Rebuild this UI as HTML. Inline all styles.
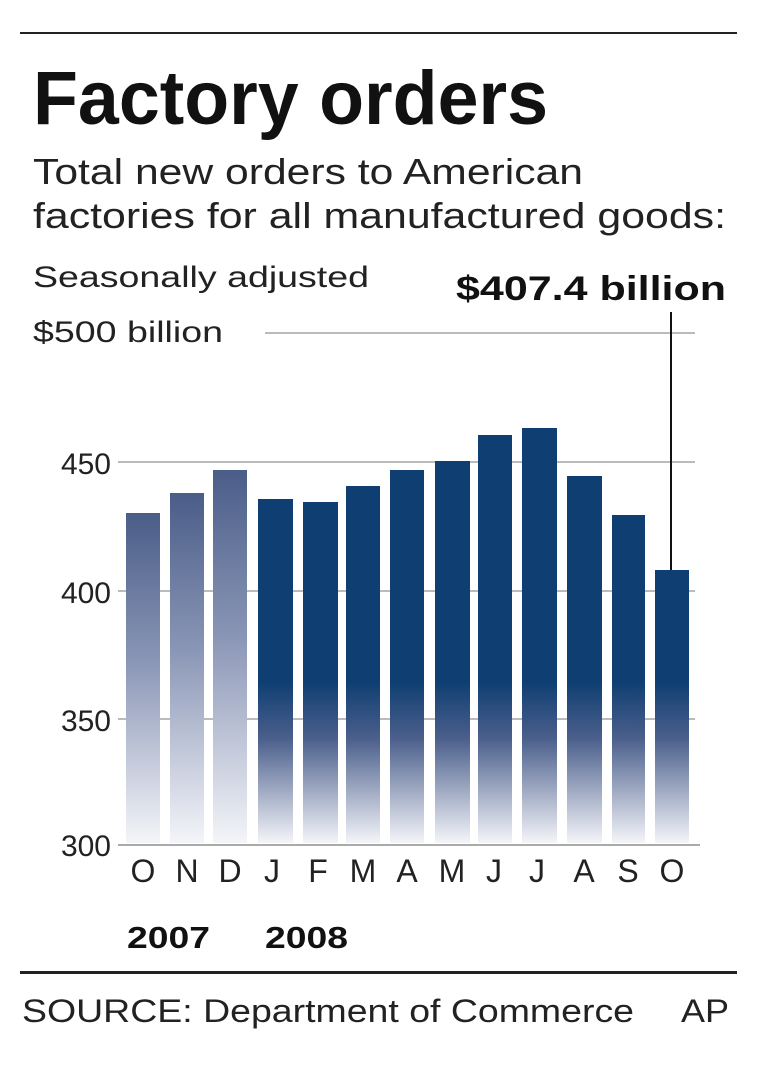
<!DOCTYPE html>
<html><head><meta charset="utf-8"><style>body{margin:0;background:#fff}svg{display:block}</style></head><body>
<svg width="760" height="1069" viewBox="0 0 760 1069" xmlns="http://www.w3.org/2000/svg" font-family="Liberation Sans, sans-serif">
<defs>
<linearGradient id="g7" x1="0" y1="0" x2="0" y2="1" gradientUnits="objectBoundingBox">
<stop offset="0" stop-color="#4a5d88"/><stop offset="0.45" stop-color="#8a96b6"/><stop offset="1" stop-color="#f4f5f9"/></linearGradient>
<linearGradient id="g8" x1="0" y1="470" x2="0" y2="843" gradientUnits="userSpaceOnUse">
<stop offset="0" stop-color="#0f3f72"/><stop offset="0.57" stop-color="#0f3f72"/><stop offset="0.72" stop-color="#4b5f8c"/><stop offset="1" stop-color="#f4f5f9"/></linearGradient>
</defs>
<rect x="20" y="32" width="717" height="2" fill="#222"/>
<text x="33" y="124" font-size="76" font-weight="bold" fill="#111" textLength="515" lengthAdjust="spacingAndGlyphs">Factory orders</text>
<text x="33" y="184" font-size="36" fill="#222" textLength="550" lengthAdjust="spacingAndGlyphs">Total new orders to American</text>
<text x="33" y="228" font-size="36" fill="#222" textLength="693" lengthAdjust="spacingAndGlyphs">factories for all manufactured goods:</text>
<text x="33" y="287" font-size="30" fill="#222" textLength="336" lengthAdjust="spacingAndGlyphs">Seasonally adjusted</text>
<text x="456" y="300" font-size="34" font-weight="bold" fill="#111" textLength="270" lengthAdjust="spacingAndGlyphs">$407.4 billion</text>
<text x="33" y="342" font-size="30" fill="#222" textLength="190" lengthAdjust="spacingAndGlyphs">$500 billion</text>
<g stroke="#bbb" stroke-width="2">
<line x1="265" y1="333" x2="695" y2="333"/>
<line x1="118" y1="462" x2="695" y2="462"/>
<line x1="118" y1="591" x2="695" y2="591"/>
<line x1="118" y1="719" x2="695" y2="719"/>
</g>
<g font-size="30" fill="#222" text-anchor="end">
<text x="111" y="474">450</text><text x="111" y="603">400</text><text x="111" y="731">350</text><text x="111" y="856">300</text>
</g>
<rect x="126" y="513" width="34" height="330" fill="url(#g7)"/>
<rect x="170" y="493" width="34" height="350" fill="url(#g7)"/>
<rect x="213" y="470" width="34" height="373" fill="url(#g7)"/>
<rect x="258" y="499" width="35" height="344" fill="url(#g8)"/>
<rect x="303" y="502" width="35" height="341" fill="url(#g8)"/>
<rect x="346" y="486" width="34" height="357" fill="url(#g8)"/>
<rect x="390" y="470" width="34" height="373" fill="url(#g8)"/>
<rect x="435" y="461" width="35" height="382" fill="url(#g8)"/>
<rect x="478" y="435" width="34" height="408" fill="url(#g8)"/>
<rect x="522" y="428" width="35" height="415" fill="url(#g8)"/>
<rect x="567" y="476" width="35" height="367" fill="url(#g8)"/>
<rect x="612" y="515" width="33" height="328" fill="url(#g8)"/>
<rect x="655" y="570" width="34" height="273" fill="url(#g8)"/>
<line x1="671" y1="312" x2="671" y2="570" stroke="#111" stroke-width="2"/>
<line x1="118" y1="845" x2="700" y2="845" stroke="#aaa" stroke-width="2"/>
<g font-size="32" fill="#222" text-anchor="middle">
<text x="143" y="882">O</text><text x="187" y="882">N</text><text x="230" y="882">D</text><text x="272" y="882">J</text><text x="318" y="882">F</text><text x="363" y="882">M</text><text x="407" y="882">A</text><text x="452" y="882">M</text><text x="494" y="882">J</text><text x="537" y="882">J</text><text x="584" y="882">A</text><text x="628" y="882">S</text><text x="672" y="882">O</text>
</g>
<text x="127" y="948" font-size="31" font-weight="bold" fill="#111" textLength="83" lengthAdjust="spacingAndGlyphs">2007</text>
<text x="265" y="948" font-size="31" font-weight="bold" fill="#111" textLength="83" lengthAdjust="spacingAndGlyphs">2008</text>
<rect x="20" y="971" width="717" height="3" fill="#222"/>
<text x="22" y="1022" font-size="32" fill="#222" textLength="612" lengthAdjust="spacingAndGlyphs">SOURCE: Department of Commerce</text>
<text x="681" y="1022" font-size="32" fill="#222" textLength="48" lengthAdjust="spacingAndGlyphs">AP</text>
</svg>
</body></html>
